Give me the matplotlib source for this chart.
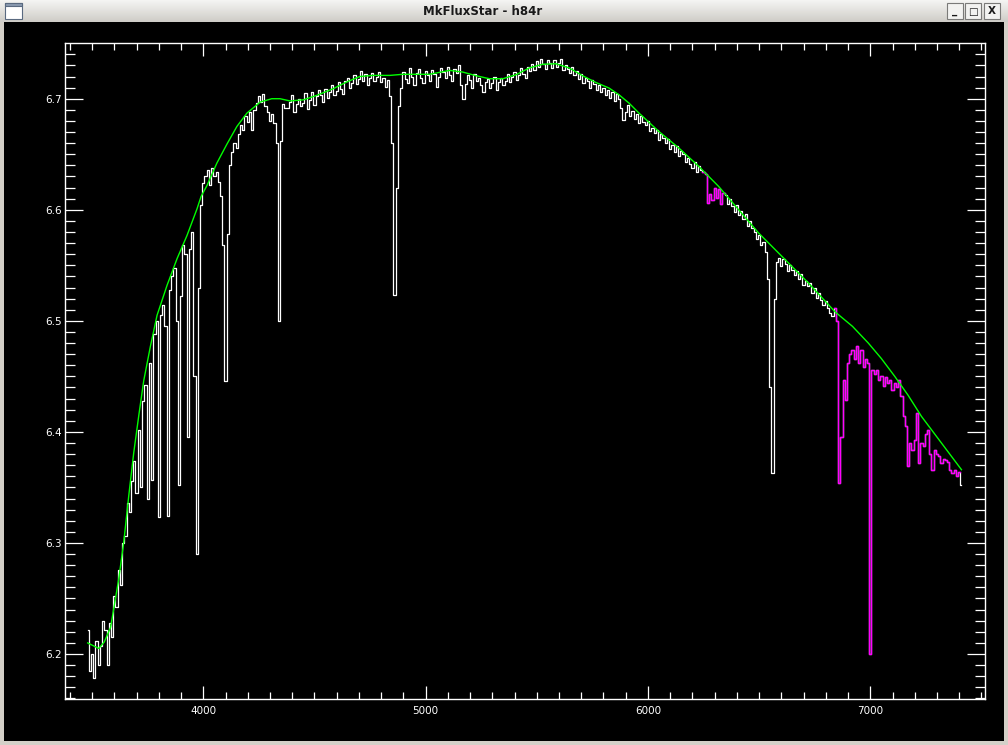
import numpy as np
import matplotlib
matplotlib.use('Agg')
import matplotlib.pyplot as plt
from matplotlib.patches import Rectangle
from matplotlib.ticker import MultipleLocator, FixedLocator
from matplotlib.colors import LinearSegmentedColormap

# ---------------- data ----------------
window_title = "MkFluxStar - h84r"

# spectrum sampling (Angstrom) and log-flux
wave = np.arange(3480, 7411, 10)
flux = [
    6.222, 6.185, 6.200, 6.178, 6.212, 6.190, 6.207, 6.230, 6.222, 6.190,   # 3480
    6.228, 6.215, 6.252, 6.242, 6.276, 6.262, 6.300, 6.306, 6.336, 6.328,   # 3580
    6.356, 6.374, 6.345, 6.402, 6.350, 6.428, 6.442, 6.340, 6.462, 6.357,   # 3680
    6.488, 6.500, 6.323, 6.505, 6.514, 6.495, 6.324, 6.528, 6.540, 6.548,   # 3780
    6.500, 6.352, 6.522, 6.568, 6.560, 6.395, 6.565, 6.580, 6.450, 6.290,   # 3880
    6.530, 6.604, 6.624, 6.630, 6.636, 6.622, 6.638, 6.630, 6.634, 6.625,   # 3980
    6.612, 6.568, 6.446, 6.578, 6.640, 6.652, 6.660, 6.656, 6.668, 6.676,   # 4080
    6.672, 6.684, 6.679, 6.688, 6.672, 6.690, 6.696, 6.702, 6.697, 6.704,   # 4180
    6.693, 6.688, 6.680, 6.686, 6.678, 6.660, 6.500, 6.662, 6.695, 6.692,   # 4280
    6.692, 6.697, 6.703, 6.688, 6.695, 6.700, 6.693, 6.696, 6.705, 6.691,   # 4380
    6.699, 6.706, 6.694, 6.702, 6.708, 6.703, 6.697, 6.709, 6.701, 6.706,   # 4480
    6.712, 6.703, 6.707, 6.715, 6.709, 6.704, 6.716, 6.719, 6.710, 6.714,   # 4580
    6.721, 6.713, 6.718, 6.725, 6.716, 6.722, 6.712, 6.719, 6.723, 6.716,   # 4680
    6.720, 6.724, 6.715, 6.719, 6.711, 6.717, 6.702, 6.660, 6.523, 6.620,   # 4780
    6.693, 6.710, 6.724, 6.718, 6.714, 6.728, 6.720, 6.712, 6.723, 6.727,   # 4880
    6.719, 6.714, 6.725, 6.721, 6.716, 6.726, 6.722, 6.711, 6.720, 6.728,   # 4980
    6.724, 6.719, 6.729, 6.721, 6.716, 6.727, 6.723, 6.730, 6.712, 6.700,   # 5080
    6.713, 6.721, 6.717, 6.710, 6.722, 6.716, 6.719, 6.712, 6.706, 6.715,   # 5180
    6.718, 6.710, 6.714, 6.720, 6.708, 6.715, 6.719, 6.712, 6.716, 6.722,   # 5280
    6.715, 6.720, 6.724, 6.717, 6.721, 6.728, 6.722, 6.719, 6.729, 6.725,   # 5380
    6.731, 6.726, 6.734, 6.729, 6.736, 6.731, 6.727, 6.735, 6.732, 6.728,   # 5480
    6.735, 6.729, 6.732, 6.736, 6.726, 6.730, 6.727, 6.723, 6.729, 6.721,   # 5580
    6.725, 6.718, 6.722, 6.714, 6.719, 6.716, 6.710, 6.717, 6.713, 6.708,   # 5680
    6.712, 6.706, 6.710, 6.703, 6.708, 6.701, 6.706, 6.698, 6.704, 6.700,   # 5780
    6.692, 6.681, 6.688, 6.694, 6.684, 6.689, 6.682, 6.686, 6.678, 6.684,   # 5880
    6.679, 6.676, 6.680, 6.671, 6.674, 6.669, 6.672, 6.663, 6.668, 6.665,   # 5980
    6.660, 6.664, 6.655, 6.658, 6.652, 6.657, 6.648, 6.653, 6.650, 6.643,   # 6080
    6.647, 6.641, 6.638, 6.643, 6.634, 6.639, 6.636, 6.634, 6.632, 6.606,   # 6180
    6.614, 6.609, 6.620, 6.611, 6.619, 6.605, 6.615, 6.613, 6.605, 6.610,   # 6280
    6.603, 6.598, 6.604, 6.595, 6.599, 6.592, 6.596, 6.585, 6.590, 6.584,   # 6380
    6.580, 6.574, 6.577, 6.568, 6.571, 6.562, 6.538, 6.440, 6.363, 6.520,   # 6480
    6.553, 6.557, 6.549, 6.556, 6.551, 6.545, 6.550, 6.546, 6.541, 6.545,   # 6580
    6.538, 6.542, 6.532, 6.536, 6.531, 6.534, 6.525, 6.530, 6.521, 6.525,   # 6680
    6.519, 6.514, 6.518, 6.512, 6.507, 6.504, 6.512, 6.500, 6.354, 6.395,   # 6780
    6.447, 6.429, 6.462, 6.470, 6.474, 6.466, 6.477, 6.462, 6.474, 6.458,   # 6880
    6.466, 6.462, 6.200, 6.456, 6.452, 6.456, 6.447, 6.450, 6.441, 6.449,   # 6980
    6.444, 6.447, 6.438, 6.444, 6.440, 6.447, 6.432, 6.414, 6.405, 6.369,   # 7080
    6.390, 6.384, 6.393, 6.417, 6.372, 6.390, 6.387, 6.398, 6.402, 6.380,   # 7180
    6.366, 6.384, 6.380, 6.378, 6.372, 6.376, 6.375, 6.373, 6.366, 6.363,   # 7280
    6.366, 6.360, 6.364, 6.352,                                             # 7380
]

# telluric regions drawn in magenta
telluric_bands = [(6245, 6345), (6835, 7405)]

# fitted continuum (green)
cont_wave = [3480, 3530, 3555, 3583, 3605, 3620, 3643, 3665, 3687, 3710, 3732,
             3762, 3792, 3837, 3882, 3927, 3972, 3990, 4017, 4061, 4106, 4151,
             4196, 4256, 4308, 4345, 4390, 4450, 4510, 4584, 4644, 4704, 4764,
             4839, 4898, 4973, 5018, 5108, 5167, 5227, 5287, 5347, 5407, 5466,
             5526, 5586, 5646, 5706, 5765, 5825, 5870, 5915, 5960, 6049, 6139,
             6229, 6318, 6408, 6498, 6543, 6630, 6722, 6842, 6920, 6991, 7050,
             7110, 7170, 7230, 7320, 7410]
cont_flux = [6.210, 6.205, 6.211, 6.224, 6.250, 6.268, 6.302, 6.343, 6.381, 6.415,
             6.446, 6.477, 6.505, 6.532, 6.556, 6.577, 6.601, 6.612, 6.622, 6.642,
             6.659, 6.675, 6.687, 6.697, 6.700, 6.700, 6.698, 6.699, 6.703, 6.709,
             6.715, 6.720, 6.721, 6.721, 6.722, 6.722, 6.722, 6.7255, 6.724, 6.7207,
             6.718, 6.718, 6.7216, 6.7277, 6.731, 6.7315, 6.7277, 6.7207, 6.7147,
             6.7096, 6.7035, 6.696, 6.687, 6.6705, 6.6556, 6.639, 6.621, 6.600,
             6.579, 6.570, 6.5525, 6.534, 6.508, 6.495, 6.480, 6.466, 6.450,
             6.433, 6.414, 6.390, 6.366]

x_major = [4000, 5000, 6000, 7000]
y_major = [6.2, 6.3, 6.4, 6.5, 6.6, 6.7]

# ---------------- figure / window chrome ----------------
W, H = 1008, 745
fig = plt.figure(figsize=(W / 100, H / 100), dpi=100)
fig.patch.set_facecolor('#d4d0c8')


def fx(px):
    return px / W


def fy(py):
    return 1 - py / H


# black client area
fig.add_artist(Rectangle((fx(4), fy(741)), 1000 / W, (741 - 22) / H,
                         transform=fig.transFigure, facecolor='black',
                         edgecolor='none', zorder=0))

# title bar
tb = fig.add_axes([0, fy(22), 1, 22 / H])
cm = LinearSegmentedColormap.from_list('tb', ['#f4f4f2', '#e2e1dd', '#cfcdc8'])
tb.imshow(np.linspace(0, 1, 22)[:, None], aspect='auto', cmap=cm,
          extent=[0, W, 22, 0])
tb.set_xlim(0, W)
tb.set_ylim(22, 0)
tb.axis('off')
tb.text(483, 11.5, window_title, ha='center', va='center', fontsize=8.5,
        fontweight='bold', color='#1a1a1a', family='DejaVu Sans')
# window icon
tb.add_patch(Rectangle((5, 3), 17, 16, facecolor='white', edgecolor='#5a6a80', lw=0.8))
tb.add_patch(Rectangle((5, 3), 17, 3, facecolor='#8a9ab0', edgecolor='#5a6a80', lw=0.8))
# buttons
for bx, glyph in [(947, '_'), (965, '\u25a1'), (984, 'X')]:
    tb.add_patch(Rectangle((bx, 3), 16, 16, facecolor='#f2f2f0', edgecolor='#7a7a78', lw=0.8))
    tb.text(bx + 8, 11.5, glyph, ha='center', va='center', fontsize=7.5,
            fontweight='bold', color='#1a1a1a')

# ---------------- plot ----------------
ax = fig.add_axes([fx(65.3), fy(699), (985 - 65.3) / W, (699 - 43.3) / H])
ax.set_facecolor('black')

wave_arr = np.asarray(wave)
flux_arr = np.asarray(flux, dtype=float)
mask = np.zeros_like(wave_arr, dtype=bool)
for lo, hi in telluric_bands:
    mask |= (wave_arr >= lo) & (wave_arr <= hi)
flux_mag = np.where(mask, flux_arr, np.nan)

ax.plot(wave_arr, flux_arr, drawstyle='steps-mid', color='white', lw=0.9)
ax.plot(wave_arr, flux_mag, drawstyle='steps-mid', color='#ff00ff', lw=1.0)
ax.plot(cont_wave, cont_flux, color='#00ff00', lw=1.0)

ax.set_xlim(3379.3, 7515.9)
ax.set_ylim(6.1595, 6.7499)

for sp in ax.spines.values():
    sp.set_color('white')
    sp.set_linewidth(1.0)

ax.xaxis.set_major_locator(FixedLocator(x_major))
ax.xaxis.set_minor_locator(MultipleLocator(100))
ax.yaxis.set_major_locator(FixedLocator(y_major))
ax.yaxis.set_minor_locator(MultipleLocator(0.01))
ax.set_xticklabels([str(v) for v in x_major])
ax.set_yticklabels([f"{v:.1f}" for v in y_major])

ax.tick_params(which='both', direction='in', top=True, right=True,
               colors='white', labelcolor='white', width=0.9, labelsize=7.5)
ax.xaxis.set_tick_params(which='major', length=9.5, pad=5)
ax.xaxis.set_tick_params(which='minor', length=5)
ax.yaxis.set_tick_params(which='major', length=13, pad=2.5)
ax.yaxis.set_tick_params(which='minor', length=7)

fig.savefig('out.png', dpi=100, facecolor=fig.get_facecolor())
